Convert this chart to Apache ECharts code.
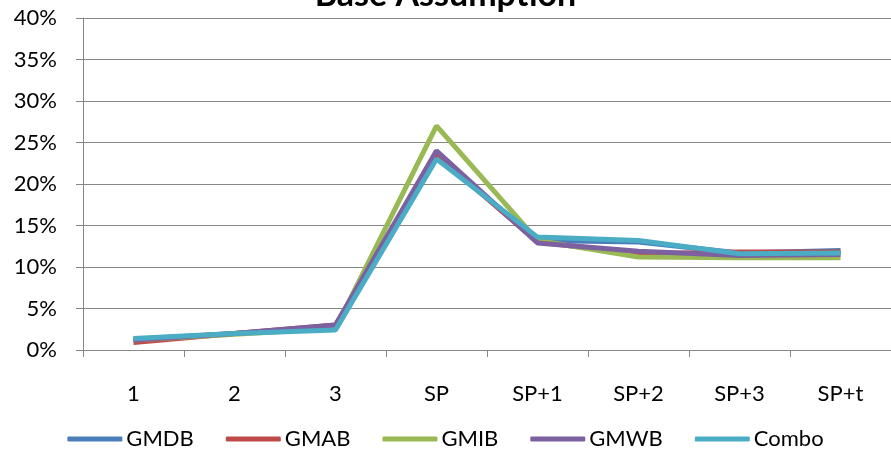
<!DOCTYPE html>
<html><head><meta charset="utf-8">
<script src="https://cdn.jsdelivr.net/npm/echarts@6/dist/echarts.min.js"></script>
<style>html,body{margin:0;padding:0;background:#fff}#c{width:891px;height:455px}</style>
</head><body><div id="c"></div>
<script>
const categories = ['1','2','3','SP','SP+1','SP+2','SP+3','SP+t'];
const yTicks = [0,5,10,15,20,25,30,35,40];
const gmdb  = [1.3, 2.0, 2.8, 23.5, 13.2, 13.0, 11.7, 12.0];
const gmab  = [0.9, 2.0, 3.0, 23.5, 13.0, 11.6, 11.8, 11.8];
const gmib  = [1.2, 1.9, 2.6, 27.0, 13.2, 11.2, 11.1, 11.1];
const gmwb  = [1.2, 2.0, 3.0, 24.0, 12.9, 11.9, 11.4, 11.5];
const combo = [1.4, 2.0, 2.4, 23.0, 13.6, 13.2, 11.6, 11.7];
const names = ['GMDB','GMAB','GMIB','GMWB','Combo'];
const colors = ['#4A7EBB','#BE4B48','#98B954','#7D60A0','#4BACC6'];
const seriesData = [gmdb, gmab, gmib, gmwb, combo];
const font = 'Lato, "Open Sans", sans-serif';
const chart = echarts.init(document.getElementById('c'));
chart.setOption({
  animation:false,
  title:{text:'Base Assumption',left:'center',top:-27,textStyle:{fontFamily:font,fontWeight:'bold',fontSize:34,color:'#000'}},
  grid:{left:83,right:0,top:18,bottom:105},
  legend:{top:423,left:'center',itemWidth:55,itemHeight:5,itemGap:32,icon:'roundRect',
    textStyle:{fontFamily:font,fontSize:22,color:'#000',padding:[0,0,0,-1]},
    data:names},
  xAxis:{type:'category',data:categories,boundaryGap:true,
    axisLine:{lineStyle:{color:'#868686',width:1}},
    axisTick:{show:true,length:7,alignWithLabel:false,lineStyle:{color:'#868686'}},
    axisLabel:{fontFamily:font,fontSize:22,color:'#000',margin:33}},
  yAxis:{type:'value',min:0,max:40,interval:5,
    axisLine:{show:true,lineStyle:{color:'#868686'}},
    axisTick:{show:true,length:7,lineStyle:{color:'#868686'}},
    splitLine:{lineStyle:{color:'#868686',width:1}},
    axisLabel:{fontFamily:font,fontSize:22,color:'#000',margin:26,formatter:v=>v+'%'}},
  series: names.map((n,i)=>({name:n,type:'line',data:seriesData[i],symbol:'none',
    lineStyle:{color:colors[i],width:5},itemStyle:{color:colors[i]},z:2+i}))
});
</script></body></html>
